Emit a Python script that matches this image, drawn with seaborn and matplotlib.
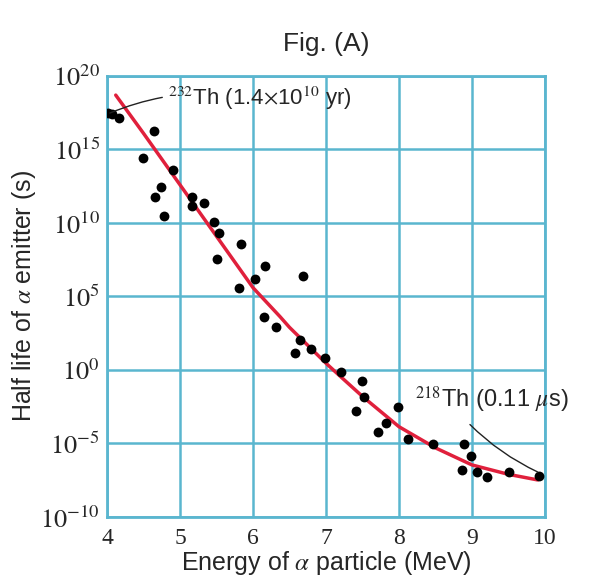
import numpy as np
import pandas as pd
import matplotlib
matplotlib.use("Agg")
import matplotlib.pyplot as plt
import seaborn as sns

# alpha emitters: energy (MeV) and log10 of half life (s)
energy = [4.01, 4.07, 4.17, 4.65, 4.49, 4.91, 4.74, 4.66, 4.78, 5.17,
          5.17, 5.33, 5.46, 5.53, 5.83, 5.51, 6.16, 6.03, 6.68, 5.81,
          6.15, 6.32, 6.64, 6.79, 6.57, 6.99, 7.21, 7.49, 7.52, 7.41,
          7.99, 7.82, 7.71, 8.13, 8.47, 8.89, 8.99, 8.86, 9.07, 9.20,
          9.51, 9.92]
log_halflife = [17.48, 17.41, 17.12, 16.26, 14.44, 13.61, 12.43, 11.79, 10.48, 11.79,
                11.16, 11.34, 10.09, 9.34, 8.57, 7.53, 7.04, 6.19, 6.39, 5.61,
                3.63, 2.90, 2.07, 1.41, 1.18, 0.80, -0.11, -0.73, -1.82, -2.77,
                -2.54, -3.59, -4.20, -4.69, -5.03, -5.03, -5.85, -6.80, -6.92, -7.26,
                -6.92, -7.19]

# the red trend curve, points read along it
curve_energy = [4.12, 4.5, 5.0, 5.18, 5.5, 6.0, 6.37, 6.5, 7.0, 7.2, 7.5,
                8.0, 8.5, 9.0, 9.5, 9.9]
curve_log = [18.7, 16.1, 12.6, 11.34, 9.1, 5.6, 3.63, 2.9, 0.46, -0.45, -1.8,
             -3.86, -5.3, -6.46, -7.1, -7.48]

yticks = [20, 15, 10, 5, 0, -5, -10]
xticks = [4, 5, 6, 7, 8, 9, 10]

pts = pd.DataFrame({"E": energy, "T": 10.0 ** np.array(log_halflife)})
fit = pd.DataFrame({"E": curve_energy, "T": 10.0 ** np.array(curve_log)})

sns.set_style("white")
plt.rcParams["font.family"] = ["Liberation Sans", "DejaVu Sans"]
plt.rcParams["mathtext.fontset"] = "stix"

grid_c = "#5ab6cf"
fig = plt.figure(figsize=(5.92, 5.81), dpi=100)
ax = fig.add_axes([0.1807, 0.1102, 0.7399, 0.7590])

sns.lineplot(data=fit, x="E", y="T", ax=ax, color="#e0203c", lw=2.5, zorder=3)
sns.scatterplot(data=pts, x="E", y="T", ax=ax, color="black", s=50,
                edgecolor="black", linewidth=0, zorder=4)

ax.set_yscale("log")
ax.set_xlim(4, 10)
ax.set_ylim(1e-10, 1e20)
ax.set_xticks(xticks)
ax.set_xticklabels([str(t) for t in xticks], family="Liberation Serif", fontsize=17)
ax.set_yticks([10.0 ** t for t in yticks])
ax.set_yticklabels([r"$10^{%d}$" % t for t in yticks], fontsize=19)
ax.yaxis.set_minor_locator(matplotlib.ticker.NullLocator())
ax.tick_params(length=0, pad=5)
ax.tick_params(axis="x", pad=8)
ax.grid(True, color=grid_c, lw=1.8)
for s in ax.spines.values():
    s.set_color(grid_c)
    s.set_linewidth(2)

ax.set_xlabel(r"Energy of $\alpha$ particle (MeV)", fontsize=18, labelpad=0)
ax.set_ylabel(r"Half life of $\alpha$ emitter (s)", fontsize=18, labelpad=2)
ax.set_title("Fig. (A)", fontsize=19, pad=18)

ax.annotate(r"$^{232}$Th (1.4$\times$10$^{10}$ yr)", xy=(4.04, 10 ** 17.48),
            xytext=(4.84, 10 ** 18.5), fontsize=16, va="center", ha="left",
            arrowprops=dict(arrowstyle="-", color="#222222", lw=1,
                            connectionstyle="arc3,rad=0.15", shrinkA=2, shrinkB=0),
            zorder=5, annotation_clip=False)
ax.annotate(r"$^{218}$Th (0.11 $\mu$s)", xy=(9.9, 10 ** -6.94),
            xytext=(8.22, 10 ** -2.04), fontsize=17, va="center", ha="left",
            arrowprops=dict(arrowstyle="-", color="#222222", lw=1,
                            connectionstyle="arc3,rad=0.1", relpos=(0.3, 0.0),
                            shrinkA=6, shrinkB=0),
            zorder=5, annotation_clip=False)

fig.savefig("out.png", dpi=100)
